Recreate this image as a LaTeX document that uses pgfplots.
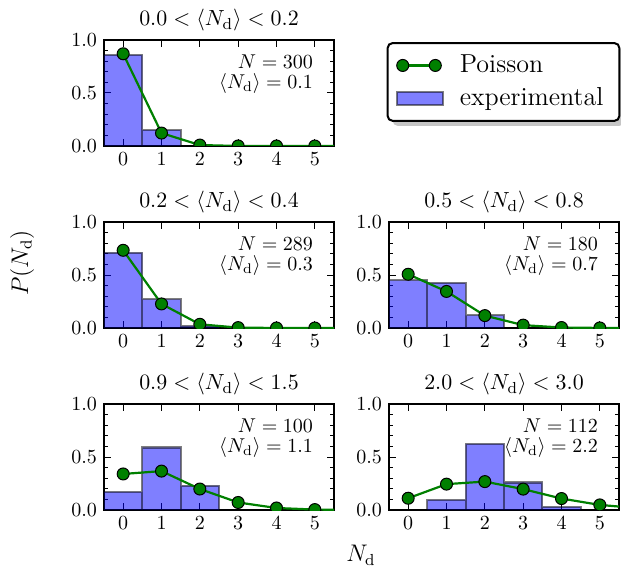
\documentclass[border=0pt]{standalone}
\usepackage{pgfplots}
\pgfplotsset{compat=1.18}
\usetikzlibrary{shadows}
\definecolor{pgreen}{HTML}{008000}

\makeatletter
\tikzset{nopre/.code={\let\tikz@preactions\pgfutil@empty\let\tikz@postactions\pgfutil@empty}}
\makeatother

\pgfplotsset{
  panel/.style={
    width=115pt, height=53pt, scale only axis,
    xmin=-0.5, xmax=5.5, ymin=0, ymax=1,
    xtick={0,1,2,3,4,5}, ytick={0,0.5,1}, minor y tick num=4,
    tick align=inside,
    axis line style={line width=1.1pt},
    major tick length=3.5pt, minor tick length=2pt,
    every tick/.style={black, line width=0.5pt},
    tick label style={font=\fontsize{10}{12}\selectfont},
    yticklabel style={/pgf/number format/.cd, fixed, fixed zerofill, precision=1},
    title style={font=\fontsize{11}{13}\selectfont, yshift=-5pt},
    clip marker paths=true,
  },
  bars/.style={ybar, bar width=1, bar shift=0pt, fill=blue, fill opacity=0.5,
    draw=black, draw opacity=0.5, line width=1.1pt},
  pois/.style={pgreen, line width=1.1pt, mark=*, mark size=3pt,
    mark options={fill=pgreen, draw=black, line width=0.5pt}},
}
\tikzset{info/.style={anchor=north east, align=right, inner sep=0pt,
    font=\fontsize{10}{10}\selectfont}}

\begin{document}
\begin{tikzpicture}
\useasboundingbox (0,0) rectangle (310.5pt,287pt);

% top left
\begin{axis}[panel, at={(52pt,214pt)}, anchor=south west,
  title={$0.0 < \langle N_\mathrm{d}\rangle < 0.2$},
  reverse legend,
  legend style={at={(1.737,0.604)}, anchor=center, draw=black, line width=1pt,
    rounded corners=2.5pt, fill=white,
    drop shadow={shadow xshift=2.5pt, shadow yshift=-2.5pt, fill=black!45},
    font=\fontsize{13}{15}\selectfont, row sep=2pt, column sep=4pt,
    inner xsep=4pt, inner ysep=4pt,
    nodes={inner xsep=4pt, inner ysep=2pt}},
  legend cell align=left]
\addplot[bars, legend image code/.code={
  \draw[nopre, sharp corners, fill=blue, fill opacity=0.5, draw=black, draw opacity=0.5, line width=1.1pt]
    (0pt,-3.25pt) rectangle (23pt,3.25pt);}]
  coordinates {(0,0.86) (1,0.15)};
\addlegendentry{experimental}
\addplot[pois, legend image code/.code={
  \draw[nopre, sharp corners, pgreen, line width=1.1pt] (3pt,0pt) -- (19.3pt,0pt);
  \filldraw[nopre, fill=pgreen, draw=black, line width=0.5pt] (3pt,0pt) circle (3pt) (19.3pt,0pt) circle (3pt);}]
  coordinates {(0,0.87) (1,0.122) (2,0.009) (3,0.0004) (4,0) (5,0) (6,0)};
\addlegendentry{Poisson}
\node[info] at (rel axis cs:0.91,0.86) {$N = 300$\\$\langle N_\mathrm{d}\rangle = 0.1$};
\end{axis}

% middle left
\begin{axis}[panel, at={(52pt,123pt)}, anchor=south west,
  title={$0.2 < \langle N_\mathrm{d}\rangle < 0.4$}]
\addplot[bars] coordinates {(0,0.71) (1,0.27) (2,0.02)};
\addplot[pois] coordinates {(0,0.733) (1,0.227) (2,0.035) (3,0.0036) (4,0.0003) (5,0) (6,0)};
\node[info] at (rel axis cs:0.91,0.86) {$N = 289$\\$\langle N_\mathrm{d}\rangle = 0.3$};
\end{axis}

% middle right
\begin{axis}[panel, at={(194.5pt,123pt)}, anchor=south west,
  title={$0.5 < \langle N_\mathrm{d}\rangle < 0.8$}]
\addplot[bars] coordinates {(0,0.45) (1,0.425) (2,0.12)};
\addplot[pois] coordinates {(0,0.507) (1,0.345) (2,0.117) (3,0.027) (4,0.0045) (5,0.0006) (6,0.0001)};
\node[info] at (rel axis cs:0.91,0.86) {$N = 180$\\$\langle N_\mathrm{d}\rangle = 0.7$};
\end{axis}

% bottom left
\begin{axis}[panel, at={(52pt,32pt)}, anchor=south west,
  title={$0.9 < \langle N_\mathrm{d}\rangle < 1.5$}]
\addplot[bars] coordinates {(0,0.17) (1,0.59) (2,0.23)};
\addplot[pois] coordinates {(0,0.340) (1,0.367) (2,0.198) (3,0.071) (4,0.019) (5,0.004) (6,0.001)};
\node[info] at (rel axis cs:0.91,0.86) {$N = 100$\\$\langle N_\mathrm{d}\rangle = 1.1$};
\end{axis}

% bottom right
\begin{axis}[panel, at={(194.5pt,32pt)}, anchor=south west,
  title={$2.0 < \langle N_\mathrm{d}\rangle < 3.0$}]
\addplot[bars] coordinates {(1,0.095) (2,0.625) (3,0.26) (4,0.03)};
\addplot[pois] coordinates {(0,0.111) (1,0.244) (2,0.268) (3,0.197) (4,0.108) (5,0.048) (6,0.017)};
\node[info] at (rel axis cs:0.91,0.86) {$N = 112$\\$\langle N_\mathrm{d}\rangle = 2.2$};
\end{axis}

\node[rotate=90, font=\fontsize{12}{14}\selectfont] at (11pt,155.5pt) {$P(N_\mathrm{d})$};
\node[font=\fontsize{12}{14}\selectfont] at (180.5pt,9.5pt) {$N_\mathrm{d}$};
\end{tikzpicture}
\end{document}
